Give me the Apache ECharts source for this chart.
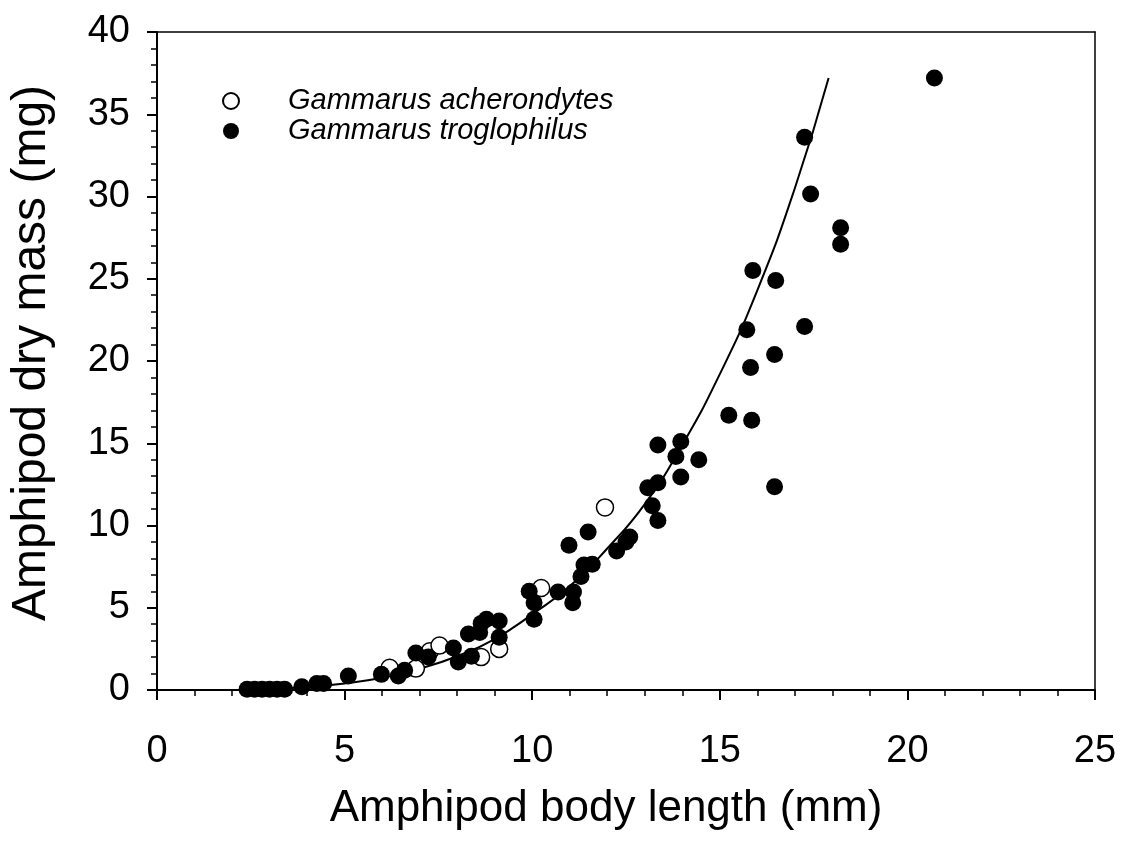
<!DOCTYPE html>
<html lang="en">

<head>
    <meta charset="UTF-8">
    <title>Amphipod body length vs dry mass</title>
    <script src="https://cdn.jsdelivr.net/npm/echarts@6/dist/echarts.min.js"></script>
    <style>
        html, body { margin: 0; padding: 0; background: #fff; }
        #chart { width: 1126px; height: 844px; }
    </style>
</head>

<body>
    <div id="chart"></div>

    <script>
        // series names
        var nameAcher = 'Gammarus acherondytes';
        var nameTroglo = 'Gammarus troglophilus';

        // [body length mm, dry mass mg]
        var acherondytes = [
            [6.2, 1.35], [6.9, 1.3], [7.27, 2.35], [7.53, 2.7],
            [8.64, 2.0], [9.12, 2.5], [10.24, 6.2], [11.94, 11.1]
        ];

        var troglophilus = [
            [2.4, 0.05], [2.6, 0.05], [2.8, 0.05], [3.0, 0.05], [3.2, 0.05], [3.4, 0.05],
            [3.86, 0.2], [4.26, 0.4], [4.44, 0.4], [5.1, 0.85], [5.98, 0.95], [6.43, 0.85],
            [6.6, 1.2], [6.9, 2.25], [7.23, 2.0], [7.9, 2.55], [8.03, 1.7], [8.3, 3.4],
            [8.38, 2.05], [8.6, 3.5], [8.64, 4.05], [8.78, 4.3], [9.12, 4.2], [9.12, 3.2],
            [9.92, 6.0], [10.05, 5.3], [10.05, 4.3], [10.69, 5.96], [11.08, 5.3], [11.1, 5.96],
            [11.3, 6.9], [11.38, 7.6], [11.6, 7.65], [10.98, 8.8], [11.49, 9.6],
            [12.25, 8.45], [12.5, 9.0], [12.6, 9.3],
            [13.08, 12.3], [13.2, 11.2], [13.35, 10.3], [13.35, 12.6], [13.35, 14.9],
            [13.83, 14.2], [13.96, 15.1], [13.96, 12.95], [14.44, 14.0],
            [15.24, 16.7], [15.85, 16.4], [15.72, 21.9], [15.82, 19.6], [15.88, 25.5],
            [16.46, 20.4], [16.46, 12.35], [16.49, 24.9], [17.26, 22.1], [17.26, 33.6],
            [17.42, 30.15], [18.22, 28.1], [18.22, 27.1], [20.72, 37.2]
        ];

        // fitted curve, points
        var fitCurve = [
            [2.3, 0.03], [3, 0.06], [4, 0.18], [5, 0.4], [6, 0.75], [7, 1.3], [8, 2.05],
            [9, 3.1], [10, 4.6], [11, 6.3], [12, 8.6], [13, 11.3], [14, 14.9], [15, 19.2],
            [16, 24.3], [17, 30.5], [17.9, 37.2]
        ];

        var font = '"Liberation Sans", Arial, sans-serif';

        var chart = echarts.init(document.getElementById('chart'));

        var frameAxis = {
            type: 'value',
            axisLine: { show: true, onZero: false, lineStyle: { color: '#000', width: 1.5 } },
            axisTick: { show: false },
            axisLabel: { show: false },
            splitLine: { show: false }
        };

        var option = {
            backgroundColor: '#fff',
            animation: false,
            grid: { left: 155, right: 31, top: 32, bottom: 154 },
            legend: {
                orient: 'vertical',
                left: 222,
                top: 86,
                padding: 0,
                itemGap: 0,
                itemWidth: 16,
                itemHeight: 16,
                data: [nameAcher, nameTroglo],
                textStyle: {
                    fontFamily: font,
                    fontStyle: 'italic',
                    fontSize: 29,
                    lineHeight: 30,
                    color: '#000',
                    padding: [0, 0, 0, 44]
                }
            },
            xAxis: [{
                type: 'value',
                min: 0,
                max: 25,
                interval: 5,
                name: 'Amphipod body length (mm)',
                nameLocation: 'middle',
                nameGap: 97,
                nameTextStyle: { fontFamily: font, fontSize: 44, color: '#000', padding: [0, 40, 0, 0] },
                axisLine: { show: true, onZero: false, lineStyle: { color: '#000', width: 2 } },
                axisTick: { show: true, inside: false, length: 10, lineStyle: { color: '#000', width: 2 } },
                minorTick: { show: true, splitNumber: 5, length: 6, lineStyle: { color: '#000', width: 1.5 } },
                axisLabel: { fontFamily: font, fontSize: 38, color: '#000', margin: 43 },
                splitLine: { show: false }
            }, Object.assign({ position: 'top', min: 0, max: 25 }, frameAxis)],
            yAxis: [{
                type: 'value',
                min: 0,
                max: 40,
                interval: 5,
                name: 'Amphipod dry mass (mg)',
                nameLocation: 'middle',
                nameGap: 101,
                nameTextStyle: { fontFamily: font, fontSize: 48, color: '#000', padding: [0, 0, 0, 16] },
                axisLine: { show: true, onZero: false, lineStyle: { color: '#000', width: 2 } },
                axisTick: { show: true, inside: false, length: 10, lineStyle: { color: '#000', width: 2 } },
                minorTick: { show: true, splitNumber: 5, length: 6, lineStyle: { color: '#000', width: 1.5 } },
                axisLabel: { fontFamily: font, fontSize: 38, color: '#000', margin: 27 },
                splitLine: { show: false }
            }, Object.assign({ position: 'right', min: 0, max: 40 }, frameAxis)],
            series: [
                {
                    name: 'fit',
                    type: 'line',
                    data: fitCurve,
                    smooth: true,
                    showSymbol: false,
                    lineStyle: { color: '#000', width: 2 },
                    z: 1
                },
                {
                    name: nameAcher,
                    type: 'scatter',
                    data: acherondytes,
                    symbol: 'circle',
                    symbolSize: 17,
                    itemStyle: { color: '#fff', borderColor: '#000', borderWidth: 1.5, opacity: 1 },
                    z: 2
                },
                {
                    name: nameTroglo,
                    type: 'scatter',
                    data: troglophilus,
                    symbol: 'circle',
                    symbolSize: 17,
                    itemStyle: { color: '#000', borderColor: '#000', borderWidth: 0, opacity: 1 },
                    z: 3
                }
            ]
        };

        option && chart.setOption(option);
    </script>

</body>

</html>
